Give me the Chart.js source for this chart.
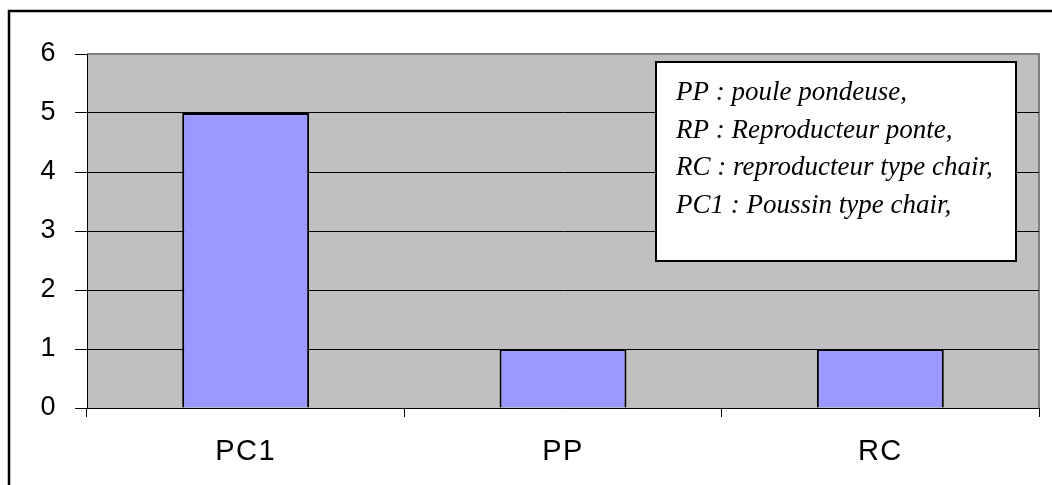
<!DOCTYPE html>
<html lang="fr">
<head>
    <meta charset="UTF-8">
    <title>PC1 / PP / RC</title>
    <script src="https://cdn.jsdelivr.net/npm/chart.js"></script>
    <style>
        html, body { margin: 0; padding: 0; background: #fff; }
        #wrap { width: 1052px; height: 485px; }
    </style>
</head>
<body>
<div id="wrap"><canvas id="chart"></canvas></div>

<script>
    // Data
    const categories = ['PC1', 'PP', 'RC'];
    const counts = [5, 1, 1];
    const yTicks = [0, 1, 2, 3, 4, 5, 6];
    const noteLines = [
        'PP : poule pondeuse,',
        'RP : Reproducteur ponte,',
        'RC : reproducteur type chair,',
        'PC1 : Poussin type chair,'
    ];

    // Colors
    const barColor = '#9999FF';
    const plotBG = '#C0C0C0';

    // gray plot area + outer frame
    const backdrop = {
        id: 'backdrop',
        beforeDraw(chart) {
            const ctx = chart.ctx;
            const a = chart.chartArea;
            ctx.save();
            ctx.fillStyle = plotBG;
            ctx.fillRect(a.left, a.top, a.right - a.left, a.bottom - a.top);
            // gray top and right border
            ctx.strokeStyle = '#808080';
            ctx.lineWidth = 2;
            ctx.beginPath();
            ctx.moveTo(a.left, a.top);
            ctx.lineTo(a.right, a.top);
            ctx.lineTo(a.right, a.bottom);
            ctx.stroke();
            // outer black frame (top and left only visible)
            ctx.strokeStyle = '#000';
            ctx.lineWidth = 2.5;
            ctx.beginPath();
            ctx.moveTo(9, chart.height);
            ctx.lineTo(9, 11);
            ctx.lineTo(chart.width, 11);
            ctx.stroke();
            ctx.restore();
            // the axis labels in the original are spaced out a bit
            ctx.letterSpacing = '1.5px';
        },
        beforeDatasetsDraw(chart) {
            chart.ctx.letterSpacing = '0px';
        }
    };

    // text box with the abbreviations
    const noteBox = {
        id: 'noteBox',
        afterDraw(chart) {
            const ctx = chart.ctx;
            const x = 656, y = 62, w = 360, h = 199;
            ctx.save();
            ctx.letterSpacing = '0px';
            ctx.fillStyle = '#fff';
            ctx.fillRect(x, y, w, h);
            ctx.strokeStyle = '#000';
            ctx.lineWidth = 2;
            ctx.strokeRect(x, y, w, h);
            ctx.fillStyle = '#000';
            ctx.font = 'italic 27px "Liberation Serif", "Times New Roman", serif';
            ctx.textBaseline = 'alphabetic';
            noteLines.forEach((line, i) => {
                ctx.fillText(line, 676, 100 + i * 37.7);
            });
            ctx.restore();
        }
    };

    const ctx = document.getElementById('chart').getContext('2d');
    new Chart(ctx, {
        type: 'bar',
        data: {
            labels: categories,
            datasets: [{
                data: counts,
                backgroundColor: barColor,
                borderColor: '#000',
                borderWidth: 2,
                categoryPercentage: 1,
                barPercentage: 0.4
            }]
        },
        options: {
            responsive: true,
            maintainAspectRatio: false,
            animation: false,
            layout: { padding: { left: 0, top: 54, right: 13, bottom: 0 } },
            plugins: {
                legend: { display: false },
                tooltip: { enabled: false }
            },
            scales: {
                x: {
                    grid: {
                        offset: true,
                        drawOnChartArea: false,
                        drawTicks: true,
                        tickLength: 9,
                        color: '#000'
                    },
                    border: { color: '#000', width: 1 },
                    ticks: {
                        color: '#000',
                        padding: 18,
                        font: { family: 'Arial, "Liberation Sans", sans-serif', size: 29 }
                    },
                    afterFit(scale) { scale.height = 77; }
                },
                y: {
                    min: 0,
                    max: 6,
                    afterBuildTicks(scale) {
                        scale.ticks = yTicks.map(v => ({ value: v }));
                    },
                    grid: {
                        color: ctx => ctx.tick && ctx.tick.value === 6 ? 'rgba(0,0,0,0)' : '#000',
                        lineWidth: 1,
                        tickLength: 12,
                        tickColor: '#000'
                    },
                    border: { color: '#000', width: 1 },
                    ticks: {
                        color: '#000',
                        padding: 18,
                        font: { family: 'Arial, "Liberation Sans", sans-serif', size: 27 }
                    },
                    afterFit(scale) { scale.width = 87; }
                }
            }
        },
        plugins: [backdrop, noteBox]
    });
</script>
</body>
</html>
